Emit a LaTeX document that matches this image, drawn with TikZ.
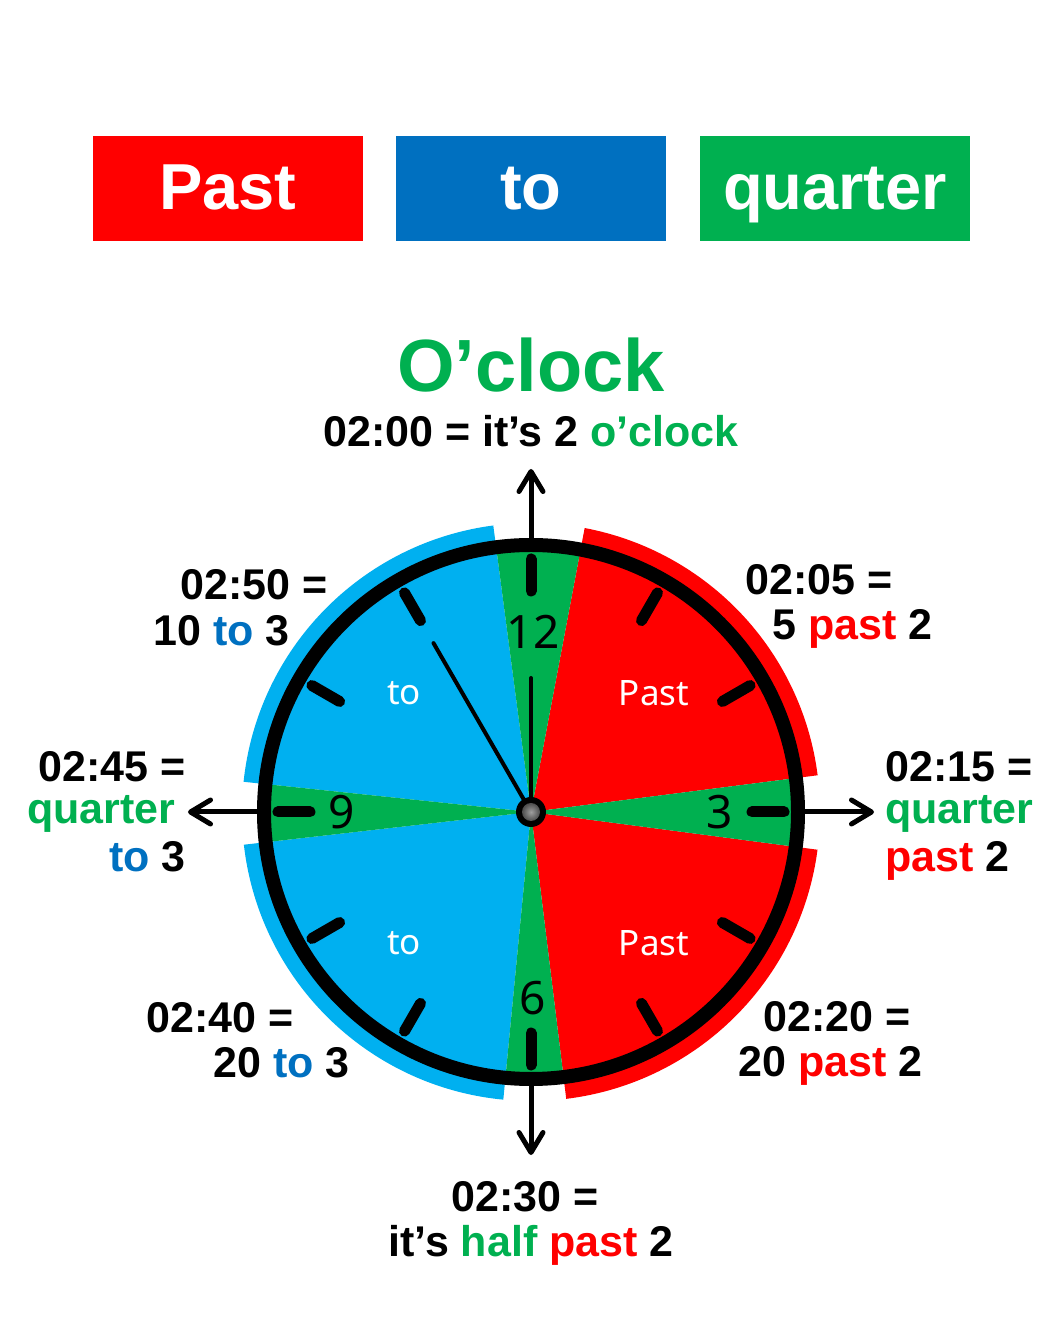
\documentclass[tikz,border=0pt]{standalone}
\usepackage{fontspec}
\setmainfont{Liberation Sans}
\newfontfamily\dialfont{Noto Sans}
\usetikzlibrary{arrows.meta}
\definecolor{pastred}{HTML}{FF0000}
\definecolor{toblue}{HTML}{0070C0}
\definecolor{quartergreen}{HTML}{00B050}
\definecolor{dialblue}{HTML}{00B0F0}
\newcommand{\pastw}{\textcolor{pastred}{past}}
\newcommand{\tow}{\textcolor{toblue}{to}}
\newcommand{\quarterw}{\textcolor{quartergreen}{quarter}}
\tikzset{
  wordbox/.style={minimum width=135pt,minimum height=52.5pt,inner sep=0pt,
    text=white,text height=23.8pt,text depth=2.3pt,
    font=\bfseries\fontsize{32.5}{32.5}\selectfont},
  timeline/.style={inner sep=0pt,font=\bfseries\fontsize{21.5}{24}\selectfont},
  dialnum/.style={inner sep=0pt,font=\dialfont\fontsize{23}{23}\selectfont},
  dialword/.style={inner sep=0pt,text=white,font=\dialfont\fontsize{17.5}{17.5}\selectfont},
  hourtick/.style={line width=5.5pt,line cap=round},
  hand/.style={line width=2pt,line cap=round},
  pointer/.style={line width=2.5pt,-{Straight Barb[length=10pt,width=12pt,line width=2.5pt,round]}}
}
\begin{document}
\begin{tikzpicture}[x=0.5pt,y=0.5pt]
\useasboundingbox (-531,-508) rectangle (514,812);
% Woerter oben
\node[wordbox,fill=pastred]      (wpast)    at (-303,623.5) {Past};
\node[wordbox,fill=toblue]       (wto)      at (0,623.5)    {to};
\node[wordbox,fill=quartergreen] (wquarter) at (304,623.5)  {quarter};
% Ueberschrift
\node (title) at (0,420) [anchor=base,inner sep=0pt,text=quartergreen,
  font=\bfseries\fontsize{37}{37}\selectfont] {O’clock};
% Aussenboegen
\foreach \sa/\ea/\col in {97.5/174/dialblue,186.5/264.5/dialblue,
                          7.3/79.3/pastred,-83/-7.5/pastred}
  \fill[\col] (\sa:272) arc[start angle=\sa,end angle=\ea,radius=272]
    -- (\ea:289) arc[start angle=\ea,end angle=\sa,radius=289] -- cycle;
% Sektoren des Zifferblatts
\foreach \sa/\ea/\col in {97.5/174/dialblue,186.5/264.5/dialblue,
                          7.3/79.3/pastred,-83/-7.5/pastred,
                          79.3/97.5/quartergreen,174/186.5/quartergreen,
                          264.5/277/quartergreen,-7.5/7.3/quartergreen}
  \fill[\col] (0,0) -- (\sa:267) arc[start angle=\sa,end angle=\ea,radius=267] -- cycle;
% Rand
\draw[line width=7pt] (0,0) circle[radius=267];
% Stundenstriche
\foreach \h in {0,...,11}
  \draw[hourtick] (\h*30:221) -- (\h*30:253);
% Ziffern
\node[dialnum] (d12) at (2,180)   {12};
\node[dialnum] (d3)  at (189,0)   {3};
\node[dialnum] (d6)  at (2,-186)  {6};
\node[dialnum] (d9)  at (-189,0)  {9};
% Woerter im Zifferblatt
\node[dialword] (to1)   at (-127,119)  {to};
\node[dialword] (to2)   at (-127,-131) {to};
\node[dialword] (past1) at (123,119)   {Past};
\node[dialword] (past2) at (123,-131)  {Past};
% Zeiger
\coordinate (M) at (0,0);
\coordinate (hourtip) at (0,134);
\coordinate (mintip) at (120:195);
\draw[hand] (M) -- (hourtip);
\draw[hand] (M) -- (mintip);
\fill[black] (M) circle[radius=15];
\shade[inner color=gray!75,outer color=black!70] (M) circle[radius=9];
% Pfeile nach aussen
\foreach \a/\n in {90/n,0/e,270/s,180/w}{
  \coordinate (r\n) at (\a:274);
  \coordinate (p\n) at (\a:343);
  \draw[pointer] (r\n) -- (p\n);
}
% Uhrzeiten
\node[timeline] (l00)  at (0,365)      [anchor=base]      {02:00 = it’s 2 \textcolor{quartergreen}{o’clock}};
\node[timeline] (l05a) at (214,217)    [anchor=base west] {02:05 =};
\node[timeline] (l05b) at (241,172)    [anchor=base west] {5 \pastw{} 2};
\node[timeline] (l15a) at (354,30)     [anchor=base west] {02:15 =};
\node[timeline] (l15b) at (354,-12)    [anchor=base west] {\quarterw};
\node[timeline] (l15c) at (354,-60)    [anchor=base west] {\pastw{} 2};
\node[timeline] (l20a) at (232,-219)   [anchor=base west] {02:20 =};
\node[timeline] (l20b) at (207,-264)   [anchor=base west] {20 \pastw{} 2};
\node[timeline] (l30a) at (-6,-399)    [anchor=base]      {02:30 =};
\node[timeline] (l30b) at (0,-444)     [anchor=base]      {it’s \textcolor{quartergreen}{half} \pastw{} 2};
\node[timeline] (l40a) at (-237,-220)  [anchor=base east] {02:40 =};
\node[timeline] (l40b) at (-181,-265)  [anchor=base east] {20 \tow{} 3};
\node[timeline] (l45a) at (-345,30)    [anchor=base east] {02:45 =};
\node[timeline] (l45b) at (-355,-12)   [anchor=base east] {\quarterw};
\node[timeline] (l45c) at (-345,-60)   [anchor=base east] {\tow{} 3};
\node[timeline] (l50a) at (-203,212)   [anchor=base east] {02:50 =};
\node[timeline] (l50b) at (-241,166)   [anchor=base east] {10 \tow{} 3};
\end{tikzpicture}
\end{document}
